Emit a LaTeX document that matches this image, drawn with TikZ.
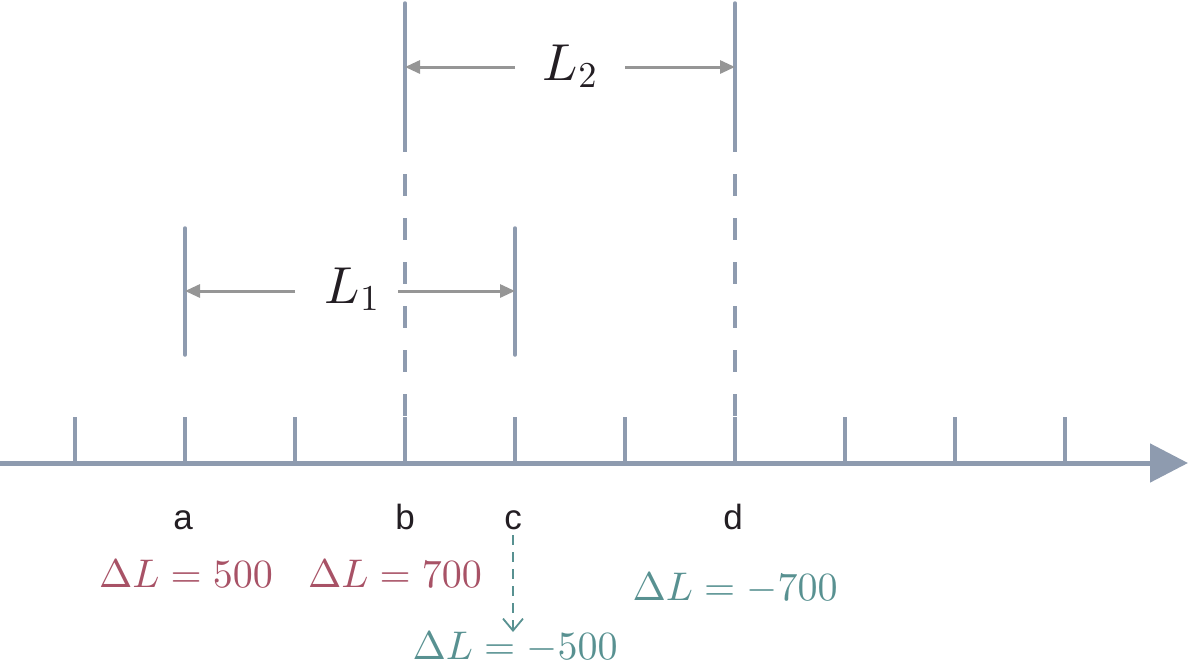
\RequirePackage{fix-cm}
\documentclass[tikz,border=0pt]{standalone}
\usepackage{fontspec}
\newfontfamily\labfont{Liberation Sans}
\DeclareFontShape{OT1}{cmr}{m}{n}{<->cmr10}{}
\DeclareFontShape{OML}{cmm}{m}{it}{<->cmmi10}{}
\DeclareFontShape{OMS}{cmsy}{m}{n}{<->cmsy10}{}
\usetikzlibrary{arrows.meta}
\definecolor{axisc}{RGB}{142,155,175}
\definecolor{arrc}{RGB}{150,150,150}
\definecolor{redc}{RGB}{168,82,102}
\definecolor{tealc}{RGB}{88,145,145}
\definecolor{inkc}{RGB}{35,30,35}
\tikzset{
  axisline/.style={draw=axisc, line width=5pt, -{Triangle[length=38pt,width=38pt]}},
  tickline/.style={draw=axisc, line width=3.5pt},
  boundline/.style={draw=axisc, line width=3.5pt, line cap=round},
  dashline/.style={draw=axisc, line width=3.5pt, dash pattern=on 22pt off 22pt},
  dimarrow/.style={draw=arrc, line width=3pt, -{Triangle[length=15pt,width=13pt]}},
  ptlabel/.style={font=\labfont\fontsize{35}{40}\selectfont, text=inkc, anchor=base, inner sep=0pt},
  bigmath/.style={font=\fontsize{52}{60}\selectfont, text=inkc, anchor=base, inner sep=0pt},
  dlred/.style={font=\fontsize{40}{48}\selectfont, text=redc, anchor=base, inner sep=0pt},
  dlteal/.style={font=\fontsize{40}{48}\selectfont, text=tealc, anchor=base, inner sep=0pt},
  tealarrow/.style={draw=tealc, line width=1.8pt, dash pattern=on 10pt off 7pt, -{Straight Barb[length=12pt,width=20pt]}}
}
\begin{document}
\begin{tikzpicture}[x=1pt,y=-1pt]
\useasboundingbox (0,0) rectangle (1190,665);
% axis
\coordinate (axL) at (0,463);
\coordinate (axR) at (1188,463);
\draw[axisline] (axL) -- (axR);
% ticks
\foreach \i/\x in {0/75,1/185,2/295,3/405,4/515,5/625,6/735,7/845,8/955,9/1065}{
  \coordinate (tb\i) at (\x,463);
  \coordinate (tt\i) at (\x,417);
  \draw[tickline] (tb\i) -- (tt\i);
}
% bound lines for L1
\coordinate (aTop) at (185,228); \coordinate (aBot) at (185,355);
\coordinate (cTop) at (515,228); \coordinate (cBot) at (515,355);
\draw[boundline] (aTop) -- (aBot);
\draw[boundline] (cTop) -- (cBot);
% bound lines for L2
\coordinate (bTop) at (405,3); \coordinate (bMid) at (405,130);
\coordinate (dTop) at (735,3); \coordinate (dMid) at (735,130);
\draw[boundline] (bTop) -- (bMid);
\draw[boundline] (dTop) -- (dMid);
\draw[dashline] (bMid) -- (tt3);
\draw[dashline] (dMid) -- (tt6);
% L2 dimension
\node[bigmath] (L2) at (570,80) {$L_2$};
\coordinate (l2a) at (515,67); \coordinate (l2b) at (405,67);
\coordinate (l2c) at (625,67); \coordinate (l2d) at (735,67);
\draw[dimarrow] (l2a) -- (l2b);
\draw[dimarrow] (l2c) -- (l2d);
% L1 dimension
\node[bigmath] (L1) at (352,303) {$L_1$};
\coordinate (l1a) at (295,291); \coordinate (l1b) at (185,291);
\coordinate (l1c) at (398,291); \coordinate (l1d) at (515,291);
\draw[dimarrow] (l1a) -- (l1b);
\draw[dimarrow] (l1c) -- (l1d);
% point labels
\node[ptlabel] (pa) at (183,529) {a};
\node[ptlabel] (pb) at (405,529) {b};
\node[ptlabel] (pc) at (513,529) {c};
\node[ptlabel] (pd) at (733,529) {d};
% delta labels
\node[dlred] (da) at (186,587) {$\Delta L = 500$};
\node[dlred] (db) at (395,587) {$\Delta L = 700$};
\node[dlteal] (dd) at (735,600) {$\Delta L = -700$};
\node[dlteal] (dc) at (515,659) {$\Delta L = -500$};
\coordinate (cArrS) at (513,535);
\coordinate (cArrE) at (513,632);
\draw[tealarrow] (cArrS) -- (cArrE);
\end{tikzpicture}
\end{document}
